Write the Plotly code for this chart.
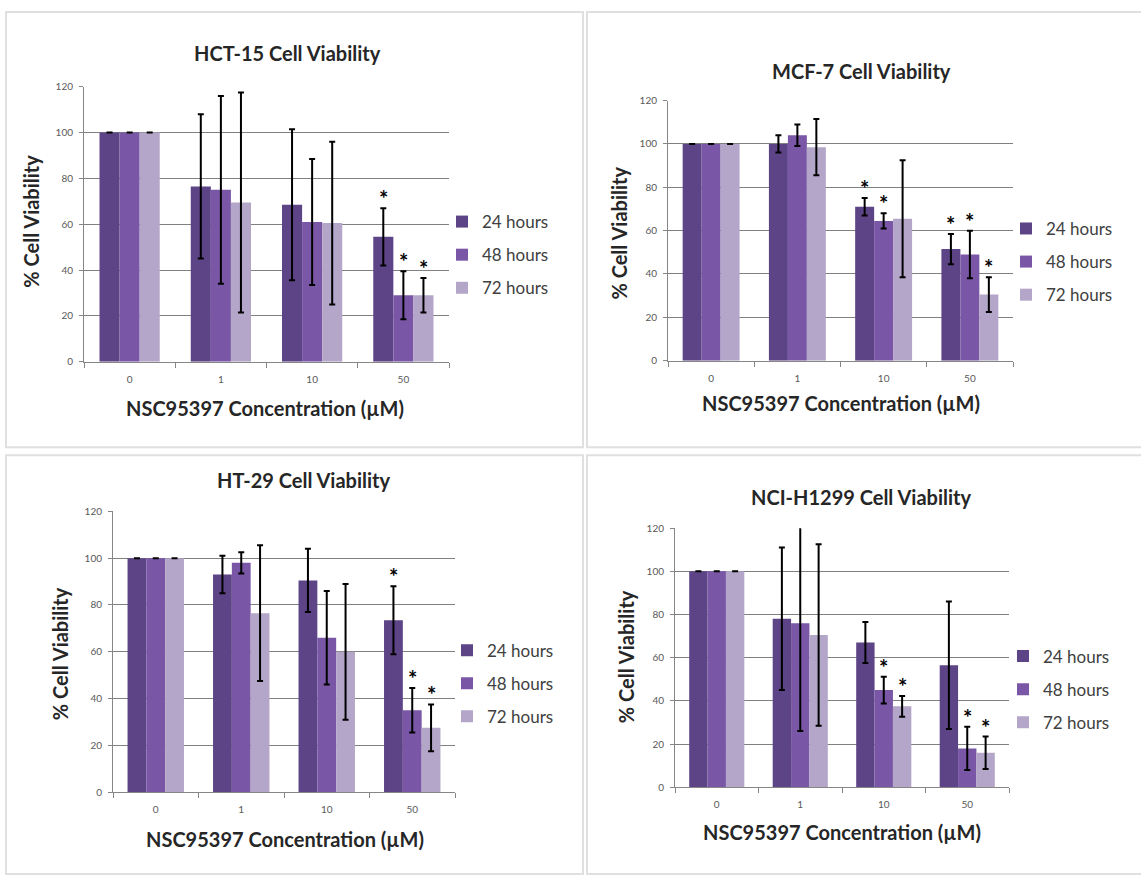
import plotly.graph_objects as go

W, H = 1141, 876

categories = ["0", "1", "10", "50"]
series_names = ["24 hours", "48 hours", "72 hours"]
series_colors = ["#5d4486", "#7a57a6", "#b3a6c8"]
y_ticks = [0, 20, 40, 60, 80, 100, 120]

# HCT-15
hct15_24h = [100, 76.5, 68.5, 54.5]
hct15_24h_err = [0, 31.5, 33, 12.5]
hct15_48h = [100, 75, 61, 29]
hct15_48h_err = [0, 41, 27.5, 10.5]
hct15_72h = [100, 69.5, 60.5, 29]
hct15_72h_err = [0, 48, 35.5, 7.5]
hct15_sig = [[0, 0, 0, 1], [0, 0, 0, 1], [0, 0, 0, 1]]

# MCF-7
mcf7_24h = [100, 100, 71, 51.5]
mcf7_24h_err = [0, 4, 4, 7]
mcf7_48h = [100, 104, 64.5, 49]
mcf7_48h_err = [0, 5, 3.5, 11]
mcf7_72h = [100, 98.5, 65.5, 30.5]
mcf7_72h_err = [0, 13, 27, 8]
mcf7_sig = [[0, 0, 1, 1], [0, 0, 1, 1], [0, 0, 0, 1]]

# HT-29
ht29_24h = [100, 93, 90.5, 73.5]
ht29_24h_err = [0, 8, 13.5, 14.5]
ht29_48h = [100, 98, 66, 35]
ht29_48h_err = [0, 4.5, 20, 9.5]
ht29_72h = [100, 76.5, 60, 27.5]
ht29_72h_err = [0, 29, 29, 10]
ht29_sig = [[0, 0, 0, 1], [0, 0, 0, 1], [0, 0, 0, 1]]

# NCI-H1299
h1299_24h = [100, 78, 67, 56.5]
h1299_24h_err = [0, 33, 9.5, 29.5]
h1299_48h = [100, 76, 45, 18]
h1299_48h_err = [0, 50, 6.2, 10]
h1299_72h = [100, 70.5, 37.5, 16]
h1299_72h_err = [0, 42, 4.8, 7.5]
h1299_sig = [[0, 0, 0, 0], [0, 0, 1, 1], [0, 0, 1, 1]]

titles = ["HCT-15 Cell Viability", "MCF-7 Cell Viability",
          "HT-29 Cell Viability", "NCI-H1299 Cell Viability"]
x_title = "NSC95397 Concentration (µM)"
y_title = "% Cell Viability"

panel_data = [
    ([hct15_24h, hct15_48h, hct15_72h], [hct15_24h_err, hct15_48h_err, hct15_72h_err], hct15_sig),
    ([mcf7_24h, mcf7_48h, mcf7_72h], [mcf7_24h_err, mcf7_48h_err, mcf7_72h_err], mcf7_sig),
    ([ht29_24h, ht29_48h, ht29_72h], [ht29_24h_err, ht29_48h_err, ht29_72h_err], ht29_sig),
    ([h1299_24h, h1299_48h, h1299_72h], [h1299_24h_err, h1299_48h_err, h1299_72h_err], h1299_sig),
]

# layout geometry (pixels)
geom = [
    dict(x0=84, x1=449, ytop=81, ybot=360, title=(287, 47), xt=(265, 407), yt=(31, 218), leg=(442, 200),
         box=(6, 5, 583, 447)),
    dict(x0=668, x1=1013, ytop=95, ybot=359, title=(861, 65), xt=(841, 402), yt=(619, 230), leg=(1006, 207),
         box=(587, 5, 1145, 447)),
    dict(x0=113, x1=455, ytop=512, ybot=797, title=(304, 480), xt=(285, 845), yt=(60, 657), leg=(447, 635),
         box=(6, 455, 583, 880)),
    dict(x0=675, x1=1009, ytop=529, ybot=792, title=(861, 497), xt=(842, 837), yt=(626, 660), leg=(1003, 641),
         box=(587, 455, 1145, 880)),
]

FONT = "Lato"
BARGAP = 0.34
bar_w = (1 - BARGAP) / 3
offsets = [-bar_w, 0, bar_w]

fig = go.Figure()
annotations = []
shapes = []
layout_axes = {}

for p, ((vals, errs, sig), g) in enumerate(zip(panel_data, geom)):
    n = p + 1
    sfx = "" if n == 1 else str(n)
    legname = "legend" if n == 1 else f"legend{n}"
    for i in range(3):
        fig.add_trace(go.Bar(
            x=categories, y=vals[i], name=series_names[i],
            marker=dict(color=series_colors[i], line=dict(width=0)),
            error_y=dict(type="data", array=errs[i], color="black", thickness=2, width=3, visible=True),
            xaxis=f"x{sfx}", yaxis=f"y{sfx}", legend=legname, legendgroup=f"g{n}_{i}",
            showlegend=True,
        ))
        for c in range(4):
            if sig[i][c]:
                annotations.append(dict(
                    x=c + offsets[i], y=vals[i][c] + errs[i][c], xref=f"x{sfx}", yref=f"y{sfx}",
                    text="<b>*</b>", showarrow=False, yanchor="bottom", yshift=-6,
                    font=dict(family=FONT, size=22, color="black"),
                ))
    layout_axes[f"xaxis{sfx}"] = dict(
        domain=[g["x0"] / W, g["x1"] / W], anchor=f"y{sfx}", type="category",
        showline=True, linecolor="#868686", linewidth=1, ticks="outside", tickson="boundaries",
        ticklen=5, tickcolor="#868686", showgrid=False, ticklabelstandoff=8,
        tickfont=dict(family=FONT, size=10, color="#595959"),
    )
    layout_axes[f"yaxis{sfx}"] = dict(
        domain=[1 - g["ybot"] / H, 1 - g["ytop"] / H], anchor=f"x{sfx}", range=[0, 120],
        tickvals=y_ticks, showline=True, linecolor="#868686", linewidth=1, ticks="outside",
        ticklen=4, tickcolor="#868686", showgrid=True, gridcolor="#808080", gridwidth=1,
        zeroline=False, ticklabelstandoff=4,
        tickfont=dict(family=FONT, size=10, color="#595959"),
    )
    layout_axes[legname] = dict(
        x=g["leg"][0] / W, y=1 - g["leg"][1] / H, xanchor="left", yanchor="top",
        font=dict(family=FONT, size=17, color="#404040"), tracegroupgap=8,
        bgcolor="rgba(0,0,0,0)", itemclick=False,
    )
    annotations.append(dict(x=g["title"][0] / W, y=1 - g["title"][1] / H, xref="paper", yref="paper",
                            text=f"<b>{titles[p]}</b>", showarrow=False, xanchor="center", yanchor="middle",
                            font=dict(family=FONT, size=20, color="#262626")))
    annotations.append(dict(x=g["xt"][0] / W, y=1 - g["xt"][1] / H, xref="paper", yref="paper",
                            text=f"<b>{x_title}</b>", showarrow=False, xanchor="center", yanchor="middle",
                            font=dict(family=FONT, size=20, color="#262626")))
    annotations.append(dict(x=g["yt"][0] / W, y=1 - g["yt"][1] / H, xref="paper", yref="paper",
                            text=f"<b>{y_title}</b>", showarrow=False, xanchor="center", yanchor="middle",
                            textangle=-90, font=dict(family=FONT, size=20, color="#262626")))
    bx0, by0, bx1, by1 = g["box"]
    shapes.append(dict(type="rect", xref="paper", yref="paper", x0=bx0 / W, x1=bx1 / W,
                       y0=1 - by1 / H, y1=1 - by0 / H, line=dict(color="#e0e0e0", width=2),
                       layer="below"))

fig.update_layout(
    width=W, height=H, autosize=False, margin=dict(l=0, r=0, t=0, b=0),
    paper_bgcolor="white", plot_bgcolor="white", barmode="group", bargap=BARGAP, bargroupgap=0,
    font=dict(family=FONT), annotations=annotations, shapes=shapes, **layout_axes,
)

fig.write_html("out.html", config={"displayModeBar": False},
               post_script="document.body.style.margin='0';document.body.style.overflow='hidden';")
